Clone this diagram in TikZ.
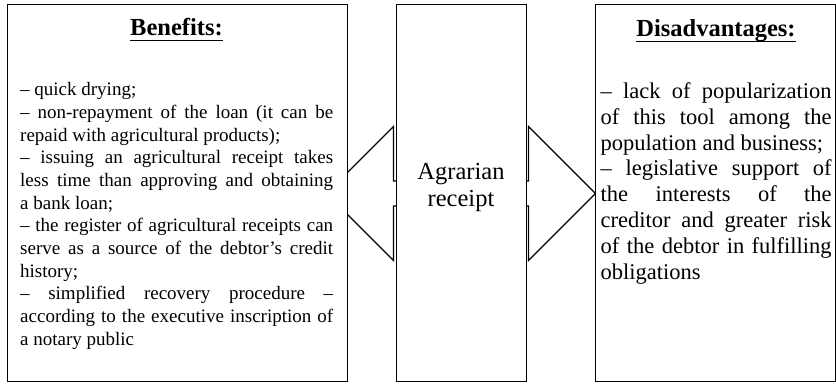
\documentclass[tikz,border=0pt]{standalone}
\usepackage{fontspec}
\setmainfont{Liberation Serif}
\tolerance=9999 \hbadness=10000
\begin{document}
\begin{tikzpicture}[x=1pt,y=-1pt,
  box/.style={draw=black,line width=1.1pt,fill=white,inner sep=0pt,anchor=north west},
  arrowline/.style={draw=black,line width=1.1pt,fill=white,line join=miter},
  ttl/.style={font=\fontsize{24.5}{28}\selectfont\bfseries,inner sep=0pt,anchor=base},
  ulinestyle/.style={line width=1.5pt},
  bodyL/.style={anchor=north west,inner sep=0pt,text width=313pt,align=justify,
    font=\fontsize{19}{22.7}\selectfont},
  bodyR/.style={anchor=north west,inner sep=0pt,text width=231pt,align=justify,
    font=\fontsize{22.5}{25.9}\selectfont},
  mid/.style={anchor=north,inner sep=0pt,text width=126pt,align=center,
    font=\fontsize{24.5}{27.6}\selectfont}]
\useasboundingbox (0,0) rectangle (836,384);
% double arrow behind the boxes
\coordinate (tipL) at (326.5,193.5);
\coordinate (tipR) at (595.5,193.5);
\draw[arrowline] (tipL) -- (393.5,126.5) -- (393.5,181) -- (528.5,181) -- (528.5,126.5)
  -- (tipR) -- (528.5,260.5) -- (528.5,206) -- (393.5,206) -- (393.5,260.5) -- cycle;
% boxes
\node[box,minimum width=340.3pt,minimum height=377.5pt] (L) at (7,3.5) {};
\node[box,minimum width=130pt,minimum height=377pt] (M) at (396,4) {};
\node[box,minimum width=239.5pt,minimum height=377pt] (R) at (595,4) {};
% titles
\node[ttl] (Bt) at (176.5,35) {Benefits:};
\draw[ulinestyle] ([yshift=-5.5pt]Bt.base west) -- ([yshift=-5.5pt]Bt.base east);
\node[ttl] (Dt) at (716,36) {Disadvantages:};
\draw[ulinestyle] ([yshift=-5.5pt]Dt.base west) -- ([yshift=-5.5pt]Dt.base east);
% middle text
\node[mid] (Mt) at (461,159.7) {\strut Agrarian\\receipt};
% left text
\node[bodyL] (Lt) at (20,79.6) {\strut– quick drying;\par
– non-repayment of the loan (it can be\linebreak repaid with agricultural products);\par
– issuing an agricultural receipt takes\linebreak less time than approving and obtaining\linebreak a bank loan;\par
– the register of agricultural receipts can\linebreak serve as a source of the debtor's credit\linebreak history;\par
– simplified recovery procedure –\linebreak according to the executive inscription of\linebreak a notary public};
% right text
\node[bodyR] (Rt) at (600.5,79.9) {\strut– lack of popularization\linebreak of this tool among the\linebreak population and business;\par
– legislative support of\linebreak the interests of the\linebreak creditor and greater risk\linebreak of the debtor in fulfilling\linebreak obligations};
\end{tikzpicture}
\end{document}
